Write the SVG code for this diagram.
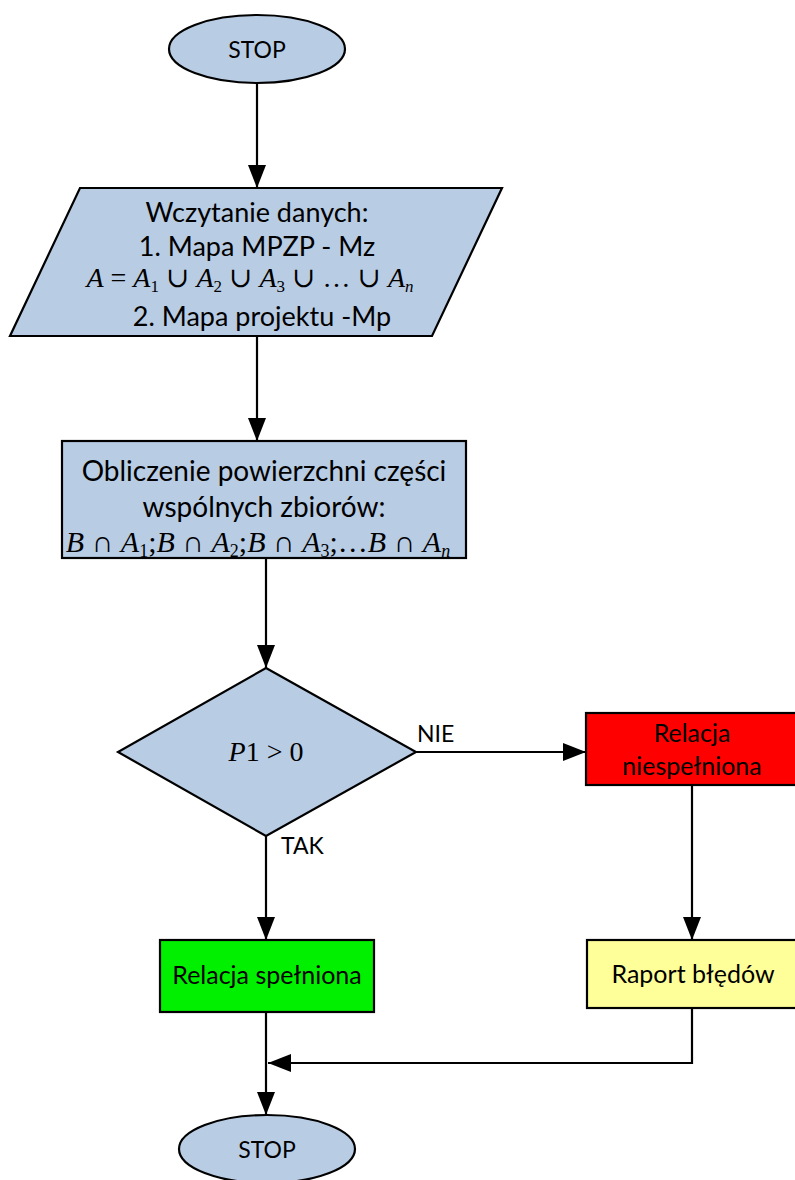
<svg xmlns="http://www.w3.org/2000/svg" width="795" height="1180" viewBox="0 0 795 1180">
  <style>
    .shape { stroke: #000; stroke-width: 2.2; }
    .blue { fill: #B8CCE4; }
    .red { fill: #FF0000; }
    .green { fill: #00F000; }
    .yellow { fill: #FFFF99; }
    .lbl { font-family: Lato, "Open Sans", sans-serif; font-size: 25px; fill: #000; text-anchor: middle; }
    .big { font-size: 27px; }
    .small { font-family: Lato, "Open Sans", sans-serif; font-size: 23px; fill: #000; }
    .math { font-family: "Liberation Serif", "DejaVu Serif", serif; font-size: 28px; fill: #000; text-anchor: middle; }
    .it { font-style: italic; }
    .sub { font-size: 17px; }
    .wire { fill: none; stroke: #000; stroke-width: 2.2; }
  </style>
  <defs>
    <marker id="arrow" markerUnits="userSpaceOnUse" markerWidth="24" markerHeight="18" viewBox="0 0 24 18" refX="23" refY="9" orient="auto">
      <path d="M0,0 L23,9 L0,18 Z" fill="#000"/>
    </marker>
  </defs>

  <!-- connectors -->
  <g id="connectors">
    <line class="wire" x1="257" y1="83" x2="257" y2="188" marker-end="url(#arrow)"/>
    <line class="wire" x1="257" y1="336" x2="257" y2="441" marker-end="url(#arrow)"/>
    <line class="wire" x1="266" y1="558" x2="266" y2="668" marker-end="url(#arrow)"/>
    <line class="wire" x1="416" y1="752" x2="586" y2="752" marker-end="url(#arrow)"/>
    <line class="wire" x1="266" y1="836" x2="266" y2="940" marker-end="url(#arrow)"/>
    <line class="wire" x1="692" y1="785" x2="692" y2="940" marker-end="url(#arrow)"/>
    <line class="wire" x1="266" y1="1012" x2="266" y2="1115" marker-end="url(#arrow)"/>
    <polyline class="wire" points="692,1008 692,1063 268,1063" marker-end="url(#arrow)"/>
    <text class="small" x="417" y="742">NIE</text>
    <text class="small" x="281" y="854">TAK</text>
  </g>

  <!-- start terminal -->
  <g id="start">
    <ellipse class="shape blue" cx="257" cy="49" rx="88" ry="34"/>
    <text class="lbl" x="257" y="58" style="font-size:23px">STOP</text>
  </g>

  <!-- input data -->
  <g id="input">
    <polygon class="shape blue" points="80,188 502,188 432,336 10,336"/>
    <text class="lbl big" x="257" y="222">Wczytanie danych:</text>
    <text class="lbl big" x="257" y="256">1. Mapa MPZP - Mz</text>
    <text class="math" x="250" y="287"><tspan class="it">A</tspan> = <tspan class="it">A</tspan><tspan class="sub" dy="5">1</tspan><tspan dy="-5"> ∪ </tspan><tspan class="it">A</tspan><tspan class="sub" dy="5">2</tspan><tspan dy="-5"> ∪ </tspan><tspan class="it">A</tspan><tspan class="sub" dy="5">3</tspan><tspan dy="-5"> ∪ … ∪ </tspan><tspan class="it">A</tspan><tspan class="sub it" dy="5">n</tspan></text>
    <text class="lbl big" x="262" y="326">2. Mapa projektu -Mp</text>
  </g>

  <!-- intersection areas -->
  <g id="compute">
    <rect class="shape blue" x="62" y="441" width="404" height="117"/>
    <text class="lbl big" x="264" y="481" style="font-size:28px">Obliczenie powierzchni części</text>
    <text class="lbl big" x="264" y="517" style="font-size:28px">wspólnych zbiorów:</text>
    <text class="math" x="258" y="552" style="font-size:30px"><tspan class="it">B</tspan> ∩ <tspan class="it">A</tspan><tspan class="sub" dy="5" style="font-size:18px">1</tspan><tspan dy="-5">;</tspan><tspan class="it">B</tspan> ∩ <tspan class="it">A</tspan><tspan class="sub" dy="5" style="font-size:18px">2</tspan><tspan dy="-5">;</tspan><tspan class="it">B</tspan> ∩ <tspan class="it">A</tspan><tspan class="sub" dy="5" style="font-size:18px">3</tspan><tspan dy="-5">;…</tspan><tspan class="it">B</tspan> ∩ <tspan class="it">A</tspan><tspan class="sub it" dy="5" style="font-size:18px">n</tspan></text>
  </g>

  <!-- decision -->
  <g id="decision">
    <polygon class="shape blue" points="266,668 416,752 266,836 118,752"/>
    <text class="math" x="266" y="761"><tspan class="it">P</tspan>1 &gt; 0</text>
  </g>

  <!-- not satisfied -->
  <g id="fail">
    <rect class="shape red" x="586" y="713" width="212" height="72"/>
    <text class="lbl" x="692" y="742">Relacja</text>
    <text class="lbl" x="692" y="775">niespełniona</text>
  </g>

  <!-- satisfied -->
  <g id="ok">
    <rect class="shape green" x="160" y="940" width="214" height="72"/>
    <text class="lbl" x="267" y="984">Relacja spełniona</text>
  </g>

  <!-- error report -->
  <g id="report">
    <rect class="shape yellow" x="587" y="940" width="212" height="68"/>
    <text class="lbl" x="693" y="983">Raport błędów</text>
  </g>

  <!-- end terminal -->
  <g id="end">
    <ellipse class="shape blue" cx="267" cy="1149" rx="88" ry="34"/>
    <text class="lbl" x="267" y="1158" style="font-size:23px">STOP</text>
  </g>
</svg>
